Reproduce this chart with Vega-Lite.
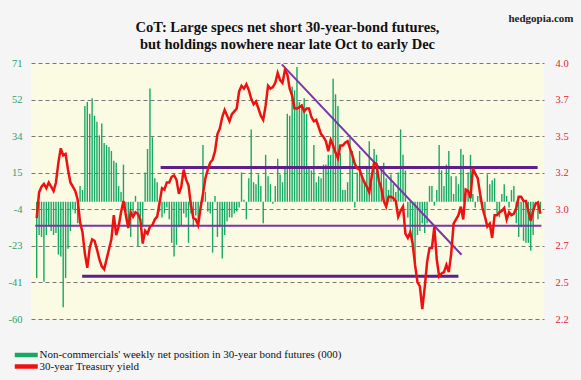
{
  "$schema": "https://vega.github.io/schema/vega-lite/v6.json",
  "width": 513,
  "height": 256,
  "autosize": {"type": "none"},
  "padding": {"left": 31, "top": 63, "right": 37, "bottom": 61},
  "background": "#f5f5f5",
  "title": {
    "text": ["CoT: Large specs net short 30-year-bond futures,", "but holdings nowhere near late Oct to early Dec"],
    "font": "Liberation Serif",
    "fontSize": 14.5,
    "fontWeight": "bold",
    "color": "#111111",
    "anchor": "middle",
    "offset": 16,
    "dy": 56,
    "lineHeight": 17
  },
  "datasets": {
    "w": [
      {"d":"2012-01-03","p":-39,"y":2.91},{"d":"2012-01-10","p":-17,"y":3.09},{"d":"2012-01-17","p":-18,"y":3.13},{"d":"2012-01-24","p":-41,"y":3.15},{"d":"2012-01-31","p":-17,"y":3.12},{"d":"2012-02-07","p":-12,"y":3.16},{"d":"2012-02-14","p":-15,"y":3.13},{"d":"2012-02-21","p":-17,"y":3.10},{"d":"2012-02-28","p":-16,"y":3.16},{"d":"2012-03-06","p":-27,"y":3.30},{"d":"2012-03-13","p":-28,"y":3.40},{"d":"2012-03-20","p":-54,"y":3.35},{"d":"2012-03-27","p":-39,"y":3.36},{"d":"2012-04-03","p":-24,"y":3.25},{"d":"2012-04-10","p":-15,"y":3.16},{"d":"2012-04-17","p":-4,"y":3.13},{"d":"2012-04-24","p":-6,"y":3.10},{"d":"2012-05-01","p":-11,"y":3.04},{"d":"2012-05-08","p":8,"y":2.88},{"d":"2012-05-15","p":6,"y":2.81},{"d":"2012-05-22","p":49,"y":2.66},{"d":"2012-05-29","p":51,"y":2.56},{"d":"2012-06-05","p":45,"y":2.70},{"d":"2012-06-12","p":53,"y":2.76},{"d":"2012-06-19","p":44,"y":2.75},{"d":"2012-06-26","p":41,"y":2.69},{"d":"2012-07-03","p":34,"y":2.62},{"d":"2012-07-10","p":40,"y":2.57},{"d":"2012-07-17","p":30,"y":2.55},{"d":"2012-07-24","p":29,"y":2.62},{"d":"2012-07-31","p":28,"y":2.69},{"d":"2012-08-07","p":26,"y":2.76},{"d":"2012-08-14","p":21,"y":2.93},{"d":"2012-08-21","p":20,"y":2.79},{"d":"2012-08-28","p":8,"y":2.85},{"d":"2012-09-04","p":5,"y":2.95},{"d":"2012-09-11","p":19,"y":3.03},{"d":"2012-09-18","p":-5,"y":2.93},{"d":"2012-09-25","p":-13,"y":2.84},{"d":"2012-10-02","p":-18,"y":2.95},{"d":"2012-10-09","p":-6,"y":2.92},{"d":"2012-10-16","p":3,"y":2.95},{"d":"2012-10-23","p":-23,"y":2.94},{"d":"2012-10-30","p":-8,"y":2.90},{"d":"2012-11-06","p":-13,"y":2.73},{"d":"2012-11-13","p":15,"y":2.82},{"d":"2012-11-20","p":27,"y":2.80},{"d":"2012-11-27","p":58,"y":2.85},{"d":"2012-12-04","p":33,"y":2.86},{"d":"2012-12-11","p":12,"y":2.90},{"d":"2012-12-18","p":10,"y":2.92},{"d":"2012-12-25","p":-5,"y":3.02},
      {"d":"2013-01-01","p":-8,"y":3.12},{"d":"2013-01-08","p":-6,"y":3.11},{"d":"2013-01-15","p":-3,"y":3.16},{"d":"2013-01-22","p":-9,"y":3.16},{"d":"2013-01-29","p":-21,"y":3.20},{"d":"2013-02-05","p":-28,"y":3.21},{"d":"2013-02-12","p":-22,"y":3.18},{"d":"2013-02-19","p":-13,"y":3.08},{"d":"2013-02-26","p":-12,"y":3.13},{"d":"2013-03-05","p":-6,"y":3.25},{"d":"2013-03-12","p":-8,"y":3.18},{"d":"2013-03-19","p":-21,"y":3.14},{"d":"2013-03-26","p":-6,"y":3.00},{"d":"2013-04-02","p":-13,"y":2.91},{"d":"2013-04-09","p":-7,"y":2.90},{"d":"2013-04-16","p":-13,"y":2.86},{"d":"2013-04-23","p":-4,"y":2.98},{"d":"2013-04-30","p":29,"y":3.08},{"d":"2013-05-07","p":5,"y":3.19},{"d":"2013-05-14","p":-5,"y":3.25},{"d":"2013-05-21","p":-6,"y":3.30},{"d":"2013-05-28","p":-26,"y":3.32},{"d":"2013-06-04","p":3,"y":3.38},{"d":"2013-06-11","p":-18,"y":3.50},{"d":"2013-06-18","p":-13,"y":3.54},{"d":"2013-06-25","p":-29,"y":3.62},{"d":"2013-07-02","p":-17,"y":3.67},{"d":"2013-07-09","p":-10,"y":3.63},{"d":"2013-07-16","p":-8,"y":3.59},{"d":"2013-07-23","p":-8,"y":3.64},{"d":"2013-07-30","p":-6,"y":3.66},{"d":"2013-08-06","p":-5,"y":3.68},{"d":"2013-08-13","p":-3,"y":3.80},{"d":"2013-08-20","p":15,"y":3.84},{"d":"2013-08-27","p":1,"y":3.82},{"d":"2013-09-03","p":-9,"y":3.85},{"d":"2013-09-10","p":12,"y":3.81},{"d":"2013-09-17","p":37,"y":3.75},{"d":"2013-09-24","p":10,"y":3.71},{"d":"2013-10-01","p":9,"y":3.73},{"d":"2013-10-08","p":14,"y":3.68},{"d":"2013-10-15","p":8,"y":3.63},{"d":"2013-10-22","p":-11,"y":3.60},{"d":"2013-10-29","p":24,"y":3.70},{"d":"2013-11-05","p":13,"y":3.84},{"d":"2013-11-12","p":9,"y":3.82},{"d":"2013-11-19","p":-1,"y":3.83},{"d":"2013-11-26","p":8,"y":3.86},{"d":"2013-12-03","p":22,"y":3.93},{"d":"2013-12-10","p":14,"y":3.88},{"d":"2013-12-17","p":10,"y":3.86},{"d":"2013-12-24","p":17,"y":3.95},{"d":"2013-12-31","p":45,"y":3.92},
      {"d":"2014-01-07","p":44,"y":3.82},{"d":"2014-01-14","p":59,"y":3.77},{"d":"2014-01-21","p":57,"y":3.68},{"d":"2014-01-28","p":69,"y":3.68},{"d":"2014-02-04","p":51,"y":3.69},{"d":"2014-02-11","p":50,"y":3.70},{"d":"2014-02-18","p":53,"y":3.66},{"d":"2014-02-25","p":45,"y":3.68},{"d":"2014-03-04","p":17,"y":3.68},{"d":"2014-03-11","p":16,"y":3.62},{"d":"2014-03-18","p":29,"y":3.59},{"d":"2014-03-25","p":10,"y":3.60},{"d":"2014-04-01","p":13,"y":3.55},{"d":"2014-04-08","p":12,"y":3.50},{"d":"2014-04-15","p":19,"y":3.48},{"d":"2014-04-22","p":19,"y":3.45},{"d":"2014-04-29","p":24,"y":3.38},{"d":"2014-05-06","p":24,"y":3.46},{"d":"2014-05-13","p":63,"y":3.42},{"d":"2014-05-20","p":55,"y":3.37},{"d":"2014-05-27","p":49,"y":3.33},{"d":"2014-06-03","p":25,"y":3.42},{"d":"2014-06-10","p":6,"y":3.42},{"d":"2014-06-17","p":6,"y":3.44},{"d":"2014-06-24","p":10,"y":3.45},{"d":"2014-07-01","p":34,"y":3.40},{"d":"2014-07-08","p":26,"y":3.35},{"d":"2014-07-15","p":-3,"y":3.29},{"d":"2014-07-22","p":15,"y":3.26},{"d":"2014-07-29","p":26,"y":3.25},{"d":"2014-08-05","p":13,"y":3.20},{"d":"2014-08-12","p":10,"y":3.16},{"d":"2014-08-19","p":18,"y":3.13},{"d":"2014-08-26","p":31,"y":3.09},{"d":"2014-09-02","p":10,"y":3.20},{"d":"2014-09-09","p":27,"y":3.30},{"d":"2014-09-16","p":24,"y":3.29},{"d":"2014-09-23","p":10,"y":3.17},{"d":"2014-09-30","p":17,"y":3.12},{"d":"2014-10-07","p":20,"y":3.03},{"d":"2014-10-14","p":12,"y":2.99},{"d":"2014-10-21","p":6,"y":3.06},{"d":"2014-10-28","p":14,"y":3.06},{"d":"2014-11-04","p":9,"y":3.05},{"d":"2014-11-11","p":5,"y":3.03},{"d":"2014-11-18","p":15,"y":2.92},{"d":"2014-11-25","p":37,"y":2.96},{"d":"2014-12-02","p":24,"y":2.99},{"d":"2014-12-09","p":16,"y":2.80},{"d":"2014-12-16","p":-8,"y":2.77},{"d":"2014-12-23","p":-16,"y":2.81},{"d":"2014-12-30","p":-25,"y":2.73},
      {"d":"2015-01-06","p":-32,"y":2.58},{"d":"2015-01-13","p":-17,"y":2.46},{"d":"2015-01-20","p":-15,"y":2.43},{"d":"2015-01-27","p":-11,"y":2.27},{"d":"2015-02-03","p":-16,"y":2.42},{"d":"2015-02-10","p":-11,"y":2.60},{"d":"2015-02-17","p":8,"y":2.70},{"d":"2015-02-24","p":8,"y":2.70},{"d":"2015-03-03","p":-2,"y":2.85},{"d":"2015-03-10","p":6,"y":2.62},{"d":"2015-03-17","p":29,"y":2.50},{"d":"2015-03-24","p":16,"y":2.52},{"d":"2015-03-31","p":8,"y":2.53},{"d":"2015-04-07","p":19,"y":2.58},{"d":"2015-04-14","p":26,"y":2.53},{"d":"2015-04-21","p":13,"y":2.66},{"d":"2015-04-28","p":4,"y":2.87},{"d":"2015-05-05","p":13,"y":2.90},{"d":"2015-05-12","p":9,"y":2.93},{"d":"2015-05-19","p":27,"y":2.99},{"d":"2015-05-26","p":24,"y":2.90},{"d":"2015-06-02","p":7,"y":3.11},{"d":"2015-06-09","p":15,"y":3.10},{"d":"2015-06-16","p":24,"y":3.05},{"d":"2015-06-23","p":4,"y":3.26},{"d":"2015-06-30","p":-3,"y":3.22},{"d":"2015-07-07","p":3,"y":3.19},{"d":"2015-07-14","p":3,"y":3.08},{"d":"2015-07-21","p":-3,"y":2.98},{"d":"2015-07-28","p":-6,"y":2.92},{"d":"2015-08-04","p":14,"y":2.85},{"d":"2015-08-11","p":9,"y":2.87},{"d":"2015-08-18","p":11,"y":2.77},{"d":"2015-08-25","p":12,"y":2.93},{"d":"2015-09-01","p":-6,"y":2.93},{"d":"2015-09-08","p":-8,"y":2.95},{"d":"2015-09-15","p":4,"y":2.96},{"d":"2015-09-22","p":9,"y":2.98},{"d":"2015-09-29","p":3,"y":2.90},{"d":"2015-10-06","p":-3,"y":2.95},{"d":"2015-10-13","p":6,"y":2.93},{"d":"2015-10-20","p":8,"y":2.94},{"d":"2015-10-27","p":-11,"y":2.98},{"d":"2015-11-03","p":-18,"y":3.06},{"d":"2015-11-10","p":-13,"y":3.06},{"d":"2015-11-17","p":-20,"y":3.03},{"d":"2015-11-24","p":-21,"y":3.03},{"d":"2015-12-01","p":-21,"y":2.96},{"d":"2015-12-08","p":-25,"y":2.89},{"d":"2015-12-15","p":-17,"y":2.96},{"d":"2015-12-22","p":-2,"y":3.01},{"d":"2015-12-29","p":-9,"y":3.02},{"d":"2016-01-05","p":-4,"y":2.94}
    ],
    "thick": [
      {"a":"2012-12-28","b":"2015-12-28","v1":3.265,"v2":3.265},
      {"a":"2012-05-14","b":"2015-05-12","v1":2.50,"v2":2.50}
    ],
    "thin": [
      {"a":"2011-12-30","b":"2016-01-08","v1":2.855,"v2":2.855},
      {"a":"2013-12-15","b":"2015-05-21","v1":3.99,"v2":2.652}
    ]
  },
  "layer": [
    {
      "data": {"name": "w"},
      "mark": {"type": "bar", "width": 1.4},
      "encoding": {
        "x": {
          "field": "d", "type": "temporal",
          "scale": {"type": "utc", "domain": [{"year": 2012, "month": 1, "date": 1, "utc": true}, {"year": 2016, "month": 1, "date": 1, "utc": true}]},
          "axis": {
            "values": [
              {"year": 2012, "month": 1, "date": 1, "utc": true}, {"year": 2012, "month": 7, "date": 1, "utc": true},
              {"year": 2013, "month": 1, "date": 1, "utc": true}, {"year": 2013, "month": 7, "date": 1, "utc": true},
              {"year": 2014, "month": 1, "date": 1, "utc": true}, {"year": 2014, "month": 7, "date": 1, "utc": true},
              {"year": 2015, "month": 1, "date": 1, "utc": true}, {"year": 2015, "month": 7, "date": 1, "utc": true},
              {"year": 2016, "month": 1, "date": 1, "utc": true}
            ],
            "format": "%b-%y",
            "grid": false,
            "labelColor": "#27305a",
            "labelPadding": 8,
            "labelFlush": false,
            "labelOverlap": false,
            "title": "Source: CFTC, Yahoo",
            "titleX": 531,
            "titleY": 47,
            "titleAlign": "right",
            "titleBaseline": "middle",
            "titleFontSize": 7.5,
            "titleFontWeight": "normal",
            "titleColor": "#333333"
          }
        },
        "y": {
          "field": "p", "type": "quantitative",
          "scale": {"domain": [-60, 71], "nice": false, "zero": false},
          "axis": {
            "values": [-60, -41.2857, -22.5714, -3.8571, 14.8571, 33.5714, 52.2857, 71],
            "labelExpr": "'' + round(datum.value)",
            "labelColor": "#2f9d6b",
            "labelPadding": 9,
            "grid": true,
            "gridDash": [4, 3],
            "gridColor": "#777777",
            "gridWidth": 1,
            "title": null
          }
        },
        "fill": {
          "datum": "Non-commercials' weekly net position in 30-year bond futures (000)",
          "type": "nominal",
          "scale": {"domain": ["Non-commercials' weekly net position in 30-year bond futures (000)"], "range": ["#16a864"]},
          "legend": {
            "orient": "none", "legendX": -17, "legendY": 286, "direction": "vertical",
            "title": null, "symbolType": "M-1.5,0H5.07", "symbolSize": 49,
            "labelFont": "Liberation Serif", "labelFontSize": 11, "labelLimit": 0, "labelOffset": 13.5,
            "padding": 0, "labelColor": "#111111",
            "encode": {"symbols": {"update": {"stroke": {"value": "#16a864"}, "strokeWidth": {"value": 4.5}, "fill": {"value": "transparent"}}}}
          }
        }
      }
    },
    {
      "data": {"name": "thin"},
      "mark": {"type": "rule", "color": "#7a36a8", "strokeWidth": 2},
      "encoding": {
        "x": {"field": "a", "type": "temporal", "scale": {"type": "utc"}, "axis": null},
        "x2": {"field": "b"},
        "y": {"field": "v1", "type": "quantitative", "scale": {"domain": [2.2, 4.0], "nice": false, "zero": false}, "axis": null},
        "y2": {"field": "v2"}
      }
    },
    {
      "data": {"name": "thick"},
      "mark": {"type": "rule", "color": "#5e1f8c", "strokeWidth": 3},
      "encoding": {
        "x": {"field": "a", "type": "temporal", "scale": {"type": "utc"}, "axis": null},
        "x2": {"field": "b"},
        "y": {"field": "v1", "type": "quantitative", "scale": {"domain": [2.2, 4.0], "nice": false, "zero": false}, "axis": null},
        "y2": {"field": "v2"}
      }
    },
    {
      "data": {"name": "w"},
      "mark": {"type": "line", "strokeWidth": 2.5, "interpolate": "linear"},
      "encoding": {
        "x": {"field": "d", "type": "temporal", "scale": {"type": "utc"}, "axis": null},
        "y": {
          "field": "y", "type": "quantitative",
          "scale": {"domain": [2.2, 4.0], "nice": false, "zero": false},
          "axis": {
            "orient": "right",
            "values": [2.2, 2.4571, 2.7143, 2.9714, 3.2286, 3.4857, 3.7429, 4.0],
            "format": ".1f",
            "labelColor": "#e3262b",
            "labelPadding": 11,
            "grid": false,
            "title": "hedgopia.com",
            "titleAngle": 0,
            "titleX": 29,
            "titleY": -45,
            "titleAlign": "right",
            "titleBaseline": "middle",
            "titleFontSize": 11,
            "titleFontWeight": "bold",
            "titleColor": "#222222"
          }
        },
        "stroke": {
          "datum": "30-year Treasury yield",
          "type": "nominal",
          "scale": {"domain": ["30-year Treasury yield"], "range": ["#ee1111"]},
          "legend": {
            "orient": "none", "legendX": -17, "legendY": 297.5, "direction": "vertical",
            "title": null, "symbolType": "M-1.5,0H5.07", "symbolSize": 49,
            "labelFont": "Liberation Serif", "labelFontSize": 11, "labelLimit": 0, "labelOffset": 13.5,
            "padding": 0, "labelColor": "#111111",
            "encode": {"symbols": {"update": {"stroke": {"value": "#ee1111"}, "strokeWidth": {"value": 4.5}, "fill": {"value": "transparent"}}}}
          }
        }
      }
    }
  ],
  "resolve": {"scale": {"y": "independent"}},
  "config": {
    "font": "Liberation Serif",
    "view": {"fill": "#fbfbe4", "stroke": null},
    "axis": {"labelFont": "Liberation Serif", "labelFontSize": 10.5, "ticks": false, "domain": false, "titleFont": "Liberation Serif"},
    "legend": {"labelFont": "Liberation Serif"}
  }
}
